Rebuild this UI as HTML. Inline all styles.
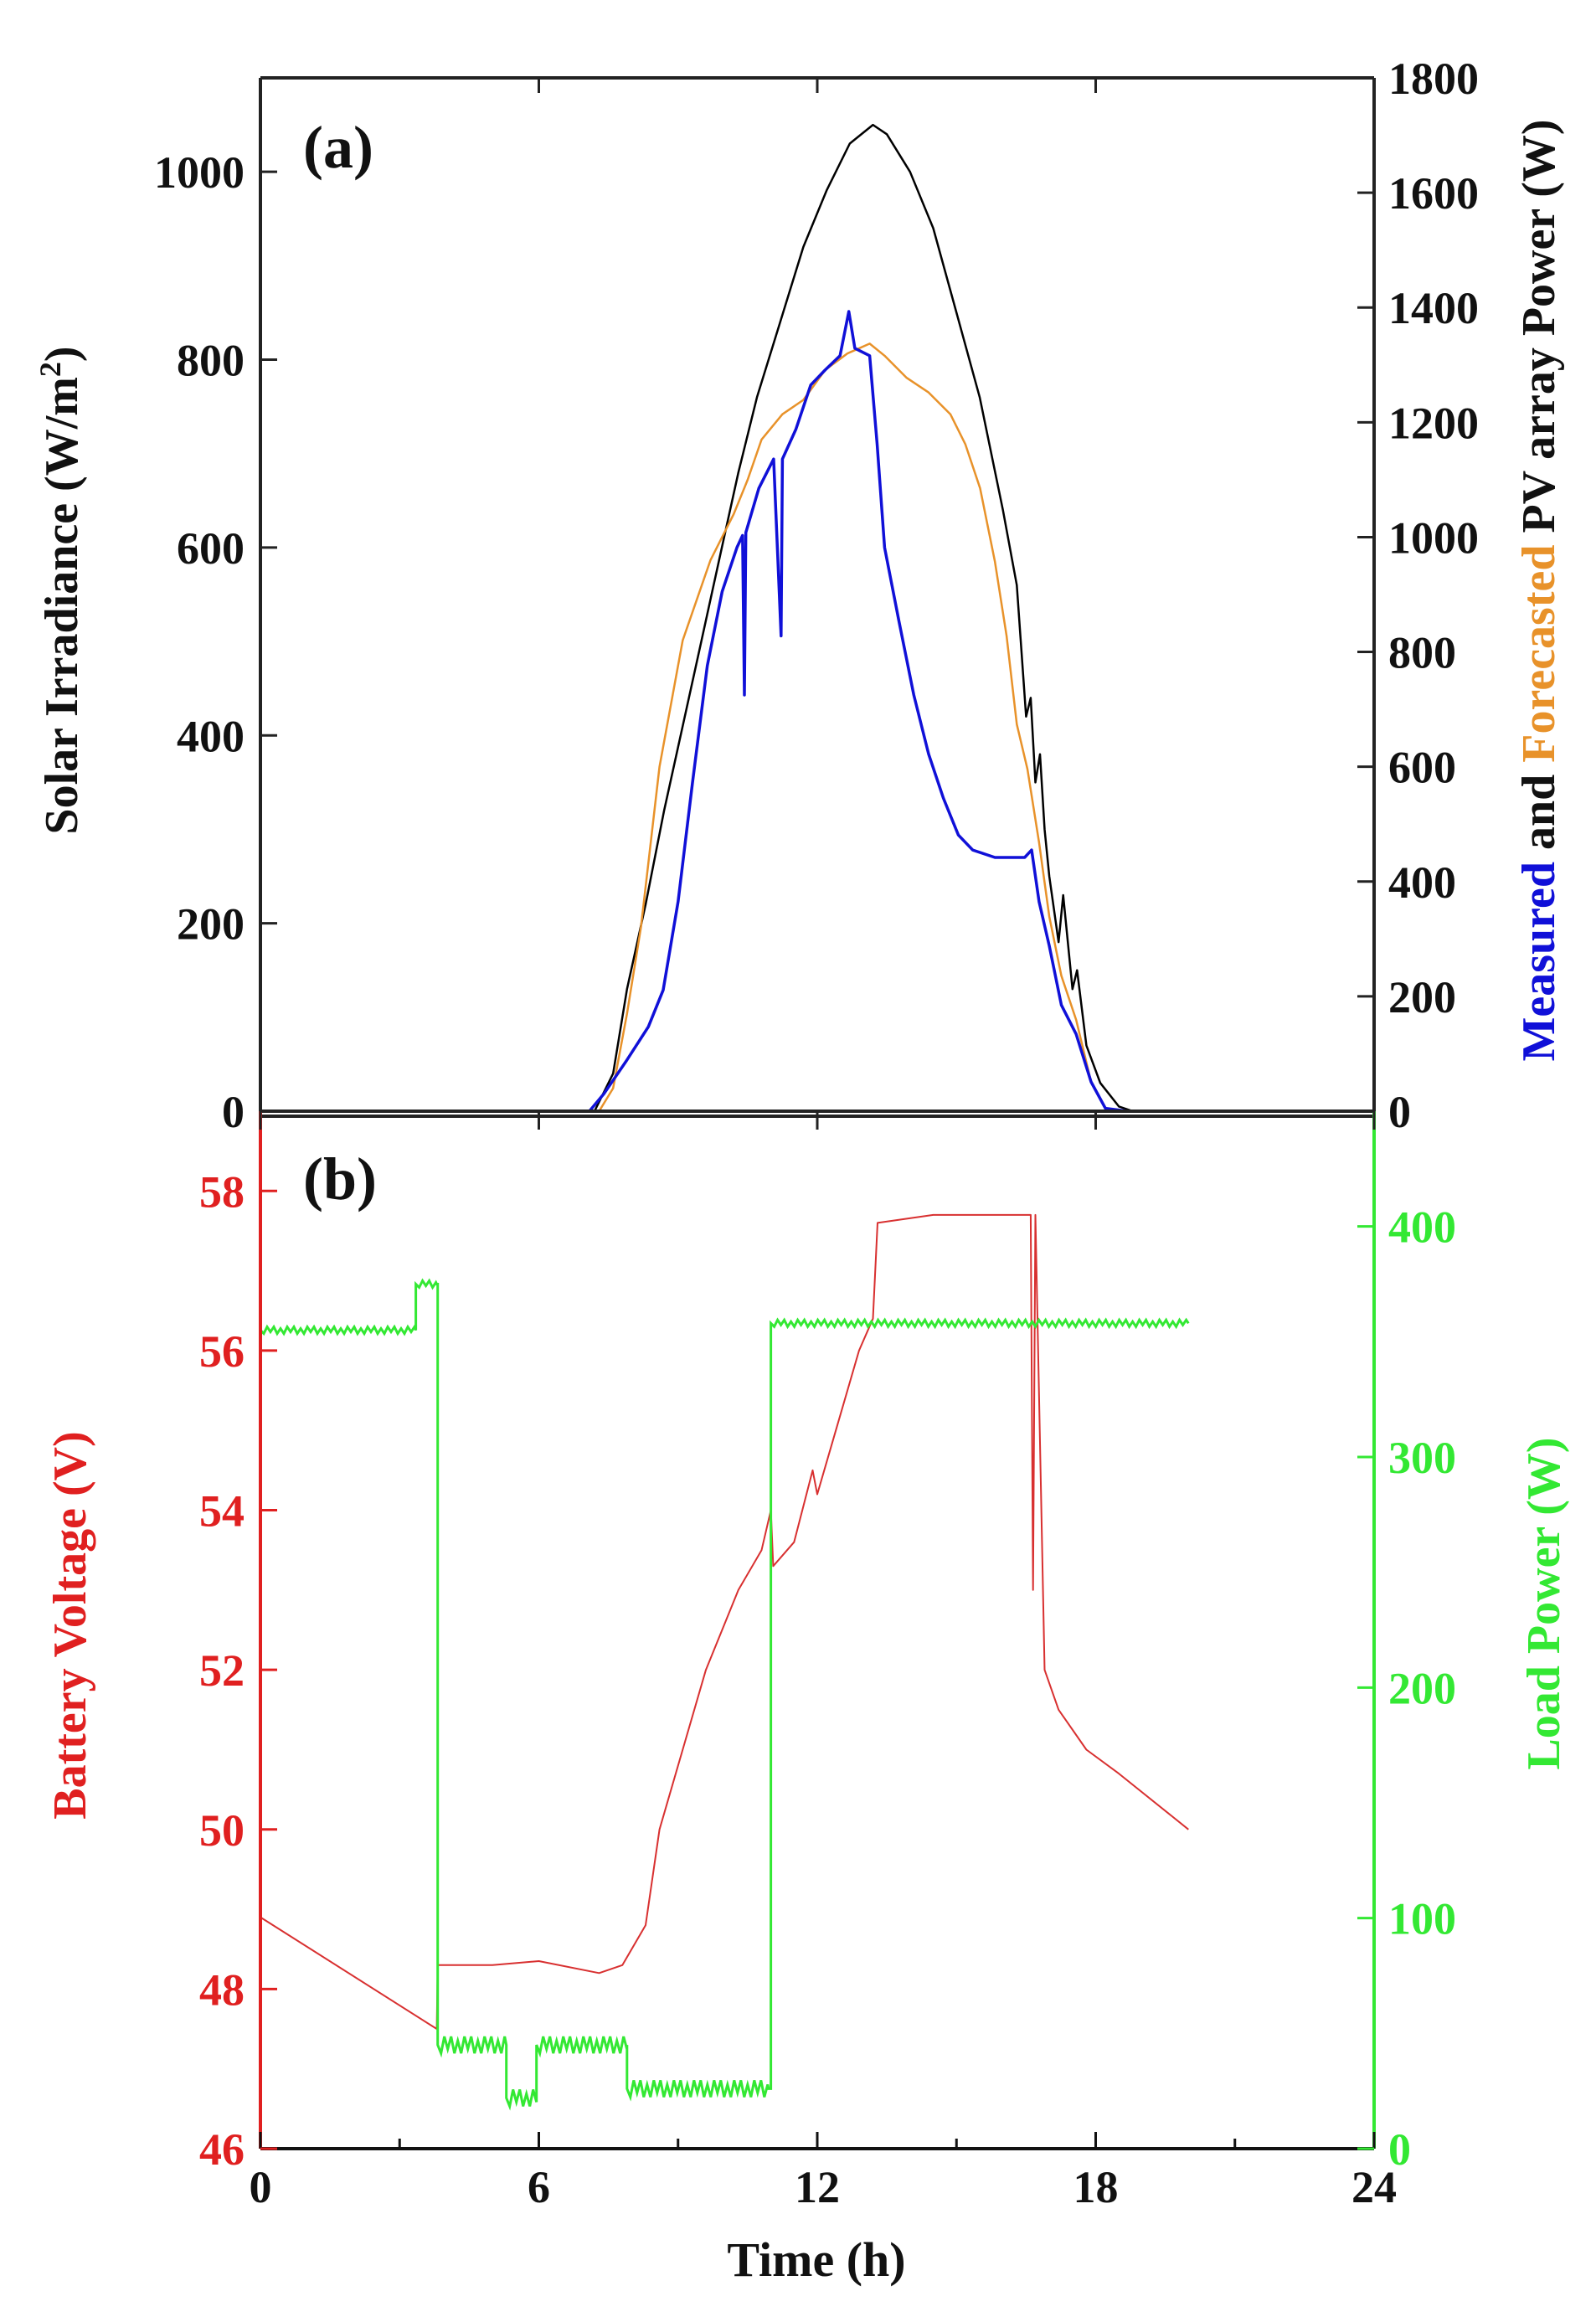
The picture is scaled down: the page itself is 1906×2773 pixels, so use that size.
<!DOCTYPE html>
<html><head><meta charset="utf-8"><style>
html,body{margin:0;padding:0;background:#fff;}
svg text{font-family:"Liberation Serif",serif;font-weight:bold;}
</style></head><body>
<svg id="c" width="1906" height="2768" viewBox="0 0 1906 2768" xmlns="http://www.w3.org/2000/svg"></svg>
<script>
// ---- data ----
const irrHours=[7.2,7.6,7.9,8.3,8.7,9.1,9.5,9.9,10.3,10.7,11.2,11.7,12.2,12.7,13.2,13.5,14.0,14.5,15.0,15.5,16.0,16.3,16.5,16.6,16.7,16.8,16.9,17.0,17.2,17.3,17.5,17.6,17.8,18.1,18.5,18.8,24];
const irrValues=[0,40,130,220,320,410,500,590,680,760,840,920,980,1030,1050,1040,1000,940,850,760,640,560,420,440,350,380,300,250,180,230,130,150,70,30,5,0,0];
const fcHours=[0,7.3,7.6,7.9,8.2,8.6,9.1,9.7,10.2,10.5,10.8,11.25,11.7,12.17,12.65,13.13,13.45,13.92,14.4,14.87,15.19,15.51,15.83,16.08,16.3,16.53,16.78,17.0,17.26,17.58,17.9,18.21,18.53,24];
const fcValues=[0,0,40,170,320,600,820,960,1040,1100,1170,1214,1239,1291,1320,1337,1316,1278,1252,1214,1162,1085,957,828,674,596,468,339,236,159,51,5,0,0];
const measHours=[0,7.09,7.41,7.88,8.36,8.68,9.0,9.31,9.63,9.95,10.27,10.39,10.43,10.46,10.74,11.06,11.22,11.25,11.54,11.86,12.17,12.49,12.68,12.81,13.13,13.29,13.45,13.76,14.08,14.4,14.72,15.04,15.35,15.83,16.47,16.62,16.78,17.0,17.26,17.58,17.9,18.21,18.69,24];
const measValues=[0,0,31,87,147,211,365,571,776,905,982,1003,725,1008,1085,1136,828,1136,1188,1265,1291,1316,1393,1329,1316,1162,982,854,725,622,545,481,455,442,442,455,365,288,185,134,51,5,0,0];
const voltHours=[0,3.8,3.82,5,6,7.3,7.8,8.3,8.6,9.1,9.6,10.3,10.8,11.0,11.05,11.5,11.9,12.0,12.4,12.9,13.2,13.3,14.5,16.6,16.65,16.7,16.9,17.2,17.8,18.5,20];
const voltValues=[48.9,47.5,48.3,48.3,48.35,48.2,48.3,48.8,50.0,51.0,52.0,53.0,53.5,54.0,53.3,53.6,54.5,54.2,55.0,56.0,56.4,57.6,57.7,57.7,53.0,57.7,52.0,51.5,51.0,50.7,50.0];
const loadHours=[0,3.35,3.8,3.82,5.3,5.95,7.9,10.95,11.0,20];
const loadValues=[355,375,375,45,22,45,26,26,358,358];
const xTicks=[0,6,12,18,24];
const irrTicks=[0,200,400,600,800,1000];
const powTicks=[0,200,400,600,800,1000,1200,1400,1600,1800];
const voltTicks=[46,48,50,52,54,56,58];
const loadTicks=[0,100,200,300,400];
// ---- layout ----
const L=311,R=1641,TA=93,MID=1327,BOT=2566;
const X=h=>L+(R-L)*h/24;
const YI=v=>MID-(MID-TA)*v/1100;
const YP=w=>MID-(MID-TA)*w/1800;
const YV=v=>BOT-(BOT-MID)*(v-46)/13;
const YL=w=>BOT-(BOT-MID)*w/450;
const S=document.getElementById('c');
const NS='http://www.w3.org/2000/svg';
function el(t,a,txt){const e=document.createElementNS(NS,t);for(const k in a)e.setAttribute(k,a[k]);if(txt!==undefined)e.textContent=txt;S.appendChild(e);return e;}
function line(xs,ys,fx,fy,col,w,name){
  const d=xs.map((h,i)=>(i?'L':'M')+fx(h).toFixed(1)+','+fy(ys[i]).toFixed(1)).join('');
  const p=el('path',{d:d,fill:'none',stroke:col,'stroke-width':w,'stroke-linejoin':'round'});
  
  
}
line(irrHours,irrValues,X,YI,'#000',2.5,'irradiance-line');
line(fcHours,fcValues,X,YP,'#e8922a',2.5,'forecasted-power-line');
line(measHours,measValues,X,YP,'#1010d8',3.5,'measured-power-line');
line(voltHours,voltValues,X,YV,'#d83030',2,'battery-voltage-line');
{
  let d='';
  for(let i=0;i<loadHours.length-1;i++){
    const x0=X(loadHours[i]),x1=X(loadHours[i+1]),y=YL(loadValues[i]);
    const amp=loadValues[i]<100?10:4;
    d+=(i?'L':'M')+x0.toFixed(1)+','+y.toFixed(1);
    let k=0;
    for(let x=x0+4;x<x1;x+=4){k++;d+='L'+x.toFixed(1)+','+(y+(k%2?amp:-amp)*((k%3)?1:0.5)).toFixed(1);}
    d+='L'+x1.toFixed(1)+','+y.toFixed(1);
    d+='L'+x1.toFixed(1)+','+YL(loadValues[i+1]).toFixed(1);
  }
  const p=el('path',{d:d,fill:'none',stroke:'#33e833','stroke-width':3});
  
  
}
function axisLine(x1,y1,x2,y2,col,name){const e=el('line',{x1,y1,x2,y2,stroke:col,'stroke-width':4});}
axisLine(L,TA,R,TA,'#222','panel-a-top-axis');
axisLine(L,TA,L,MID,'#222','panel-a-left-axis');
axisLine(R,TA,R,MID,'#222','panel-a-right-axis');
axisLine(L,MID,R,MID,'#222','panel-a-bottom-axis');
axisLine(L,MID+6,R,MID+6,'#222','panel-b-top-axis');
axisLine(L,MID,L,BOT,'#e02020','panel-b-left-axis');
axisLine(R,MID,R,BOT,'#33e833','panel-b-right-axis');
axisLine(L,BOT,R,BOT,'#111','panel-b-bottom-axis');
function tk(x1,y1,x2,y2,c){el('line',{x1,y1,x2,y2,stroke:c,'stroke-width':3});}
function label(x,y,txt,col,anchor,size,name){const t=el('text',{x,y,fill:col,'font-size':size,'text-anchor':anchor},txt);return t;}
xTicks.forEach(h=>{tk(X(h),MID,X(h),MID+22,'#222');tk(X(h),TA,X(h),TA+18,'#222');tk(X(h),BOT,X(h),BOT-20,'#111');
  if(h<24)tk(X(h+3),BOT,X(h+3),BOT-12,'#111');
  label(X(h),2630,String(h),'#111','middle',54,'x-tick-label');});
irrTicks.forEach(v=>{tk(L,YI(v),L+20,YI(v),'#222');label(292,YI(v)+19,String(v),'#111','end',54,'irradiance-tick-label');});
powTicks.forEach(v=>{tk(R,YP(v),R-20,YP(v),'#222');label(1658,YP(v)+19,String(v),'#111','start',54,'power-tick-label');});
voltTicks.forEach(v=>{tk(L,YV(v),L+20,YV(v),'#e02020');label(292,YV(v)+19,String(v),'#e02020','end',54,'voltage-tick-label');});
loadTicks.forEach(v=>{tk(R,YL(v),R-20,YL(v),'#33e833');label(1658,YL(v)+19,String(v),'#33e833','start',54,'load-tick-label');});
label(362,200,'(a)','#111','start',72,'panel-a-label');
label(362,1432,'(b)','#111','start',72,'panel-b-label');
label(975,2718,'Time (h)','#111','middle',58,'x-axis-title');
{const t=el('text',{transform:'translate(92,705) rotate(-90)','font-size':56,'text-anchor':'middle',fill:'#111'});
 
 t.innerHTML='Solar Irradiance (W/m<tspan dy="-20" font-size="36">2</tspan><tspan dy="20">)</tspan>';}
{const t=el('text',{transform:'translate(1856,705) rotate(-90)','font-size':56,'text-anchor':'middle',fill:'#111'});
 
 t.innerHTML='<tspan fill="#1010d8">Measured</tspan> and <tspan fill="#e8922a">Forecasted</tspan> PV array Power (W)';}
{const t=el('text',{transform:'translate(102,1941) rotate(-90)','font-size':56,'text-anchor':'middle',fill:'#e02020'},'Battery Voltage (V)');
 }
{const t=el('text',{transform:'translate(1862,1915) rotate(-90)','font-size':56,'text-anchor':'middle',fill:'#33e833'},'Load Power (W)');
 }
</script>
</body></html>
